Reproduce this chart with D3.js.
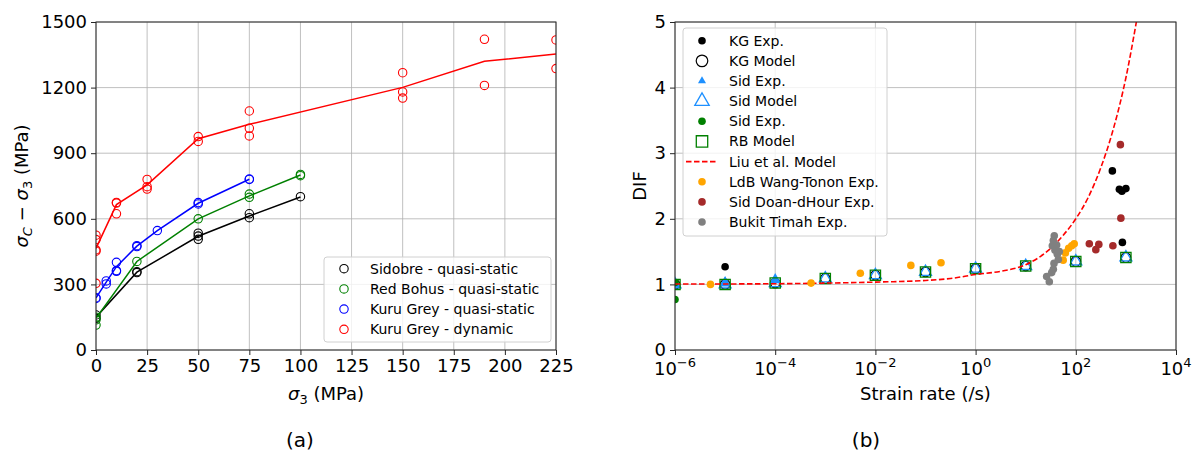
<!DOCTYPE html>
<html><head><meta charset="utf-8">
<script src="https://cdn.jsdelivr.net/npm/d3@7/dist/d3.min.js"></script>
<style>body{margin:0;background:#fff;} text{font-family:"DejaVu Sans",sans-serif;fill:#000;}</style>
</head><body><svg id="c" width="1199" height="452" xmlns="http://www.w3.org/2000/svg"></svg>
<script>
// ---------- data: panel (a) ----------
const sidobrePts = [[0,160],[0,145],[20,358],[20,354],[50,534],[50,521],[50,506],[75,623],[75,605],[100,701]];
const sidobreLine = [[0,150],[20,356],[50,520],[75,613],[100,700]];
const redBohusPts = [[0,114],[0,138],[0,150],[20,405],[50,600],[75,713],[75,698],[100,803],[100,797]];
const redBohusLine = [[0,145],[20,405],[50,600],[75,705],[100,800]];
const kuruQsPts = [[0,239],[0,236],[5,316],[5,302],[10,401],[10,360],[10,363],[20,477],[20,473],[30,546],[50,674],[50,668],[75,782],[75,780]];
const kuruQsLine = [[0,238],[5,310],[10,381],[20,475],[30,546],[50,671],[75,781]];
const kuruDynPts = [[0,525],[0,505],[0,458],[0,452],[0,305],[10,675],[10,672],[10,623],[25,780],[25,747],[25,736],[50,976],[50,954],[75,1093],[75,1014],[75,979],[150,1268],[150,1180],[150,1152],[190,1421],[190,1210],[225,1418],[225,1287]];
const kuruDynLine = [[0,465],[10,665],[25,755],[50,966],[75,1032],[150,1201],[190,1320],[225,1354]];
const legendA = ["Sidobre - quasi-static","Red Bohus - quasi-static","Kuru Grey - quasi-static","Kuru Grey - dynamic"];
const xTicksA = [0,25,50,75,100,125,150,175,200,225];
const yTicksA = [0,300,600,900,1200,1500];

// ---------- data: panel (b) ----------
const modelRates = [1e-6,1e-5,1e-4,1e-3,1e-2,1e-1,1,10,100,1000];
const kgModel = [1.0,1.0,1.02,1.09,1.14,1.19,1.24,1.28,1.35,1.41];
const sidModel = [1.0,1.0,1.02,1.09,1.14,1.19,1.24,1.28,1.35,1.41];
const rbModel = [1.0,1.0,1.02,1.09,1.14,1.19,1.24,1.28,1.35,1.41];
const kgExp = [[1e-5,1.27],[537,2.73],[741,2.45],[832,2.42],[1000,2.46],[851,1.64]];
const sidExpTri = [[1e-6,1.0],[1e-5,1.02],[1e-4,1.07]];
const sidExpGreen = [[1e-6,1.03],[1e-6,0.77]];
const liuModel = [[1e-6,1.005],[1e-4,1.01],[1e-3,1.02],[1e-2,1.035],[0.1,1.06],[0.316,1.09],[1,1.15],[3.16,1.2],[10,1.3],[31.6,1.55],[56.2,1.75],[100,2.0],[178,2.33],[316,2.78],[562,3.37],[1000,4.15],[1660,5.05]];
const ldbExp = [[5.1e-6,1.0],[5.2e-4,1.02],[5.0e-3,1.17],[0.051,1.29],[0.204,1.33],[56,1.37],[62,1.48],[72,1.55],[83,1.59],[93,1.62]];
const doanExp = [[186,1.62],[251,1.53],[288,1.61],[550,1.59],[776,3.13],[794,2.01]];
const bukitExp = [[37.2,1.74],[35.6,1.67],[34.0,1.59],[38.5,1.52],[42.8,1.46],[44.8,1.38],[36.7,1.32],[35.6,1.23],[33.0,1.18],[26.2,1.12],[29.6,1.04],[41.5,1.60],[46.9,1.50]];
const legendB = ["KG Exp.","KG Model","Sid Exp.","Sid Model","Sid Exp.","RB Model","Liu et al. Model","LdB Wang-Tonon Exp.","Sid Doan-dHour Exp.","Bukit Timah Exp."];
const xTickExpB = [-6,-4,-2,0,2,4];
const yTicksB = [0,1,2,3,4,5];

const svg = d3.select("#c");
const GRID = "#b0b0b0", SPINE = "#262626";

// ================= Panel (a) =================
const A = {l:96, r:556, t:22, b:350};
const xA = d3.scaleLinear().domain([0,225]).range([A.l,A.r]);
const yA = d3.scaleLinear().domain([0,1500]).range([A.b,A.t]);
const gA = svg.append("g");
gA.append("clipPath").attr("id","clipA").append("rect").attr("x",A.l).attr("y",A.t).attr("width",A.r-A.l).attr("height",A.b-A.t);
gA.selectAll(".gx").data(xTicksA).join("line").attr("x1",d=>xA(d)).attr("x2",d=>xA(d)).attr("y1",A.t).attr("y2",A.b).attr("stroke",GRID).attr("stroke-width",0.8);
gA.selectAll(".gy").data(yTicksA).join("line").attr("y1",d=>yA(d)).attr("y2",d=>yA(d)).attr("x1",A.l).attr("x2",A.r).attr("stroke",GRID).attr("stroke-width",0.8);
const seriesA = [
  {pts:sidobrePts,line:sidobreLine,c:"#000000"},
  {pts:redBohusPts,line:redBohusLine,c:"#008000"},
  {pts:kuruQsPts,line:kuruQsLine,c:"#0000ff"},
  {pts:kuruDynPts,line:kuruDynLine,c:"#ff0000"}];
const plotA = gA.append("g").attr("clip-path","url(#clipA)");
const lineA = d3.line().x(d=>xA(d[0])).y(d=>yA(d[1]));
seriesA.forEach(s=>{
  plotA.append("g").selectAll("circle").data(s.pts).join("circle").attr("cx",d=>xA(d[0])).attr("cy",d=>yA(d[1])).attr("r",4.2).attr("fill","none").attr("stroke",s.c).attr("stroke-width",1.1);
  plotA.append("path").attr("d",lineA(s.line)).attr("fill","none").attr("stroke",s.c).attr("stroke-width",1.5);
});
const axA = gA.append("g").attr("transform",`translate(0,${A.b})`).call(d3.axisBottom(xA).tickValues(xTicksA).tickSize(5).tickPadding(4).tickFormat(d3.format("d")));
const ayA = gA.append("g").attr("transform",`translate(${A.l},0)`).call(d3.axisLeft(yA).tickValues(yTicksA).tickSize(5).tickPadding(4).tickFormat(d3.format("d")));
[axA,ayA].forEach(a=>{a.select(".domain").remove();a.selectAll("text").attr("font-size",18).attr("font-family","DejaVu Sans");a.selectAll("line").attr("stroke",SPINE);});
gA.append("rect").attr("x",A.l).attr("y",A.t).attr("width",A.r-A.l).attr("height",A.b-A.t).attr("fill","none").attr("stroke",SPINE).attr("stroke-width",1);
const xla = gA.append("text").attr("x",(A.l+A.r)/2).attr("y",400).attr("text-anchor","middle").attr("font-size",18);
xla.append("tspan").attr("font-style","italic").text("σ");
xla.append("tspan").attr("font-size",13).attr("dy",4).text("3");
xla.append("tspan").attr("dy",-4).text(" (MPa)");
const yla = gA.append("text").attr("transform",`translate(28,${(A.t+A.b)/2}) rotate(-90)`).attr("text-anchor","middle").attr("font-size",18);
yla.append("tspan").attr("font-style","italic").text("σ");
yla.append("tspan").attr("font-size",13).attr("font-style","italic").attr("dy",4).text("C");
yla.append("tspan").attr("dy",-4).text(" − ");
yla.append("tspan").attr("font-style","italic").text("σ");
yla.append("tspan").attr("font-size",13).attr("dy",4).text("3");
yla.append("tspan").attr("dy",-4).text(" (MPa)");
svg.append("text").attr("x",300).attr("y",447).attr("text-anchor","middle").attr("font-size",20).text("(a)");
const LA = gA.append("g");
LA.append("rect").attr("x",324).attr("y",257).attr("width",227).attr("height",85).attr("rx",3).attr("fill","#fff").attr("fill-opacity",0.8).attr("stroke","#d0d0d0");
legendA.forEach((t,i)=>{
  const y = 268.7 + i*20.2;
  LA.append("circle").attr("cx",344).attr("cy",y).attr("r",4.2).attr("fill","none").attr("stroke",seriesA[i].c).attr("stroke-width",1.1);
  LA.append("text").attr("x",370).attr("y",y+5).attr("font-size",14).text(t);
});

// ================= Panel (b) =================
const B = {l:675, r:1176, t:22, b:350};
const xB = d3.scaleLog().domain([1e-6,1e4]).range([B.l,B.r]);
const yB = d3.scaleLinear().domain([0,5]).range([B.b,B.t]);
const gB = svg.append("g");
gB.append("clipPath").attr("id","clipB").append("rect").attr("x",B.l).attr("y",B.t).attr("width",B.r-B.l).attr("height",B.b-B.t);
gB.selectAll(".gx").data(xTickExpB).join("line").attr("x1",d=>xB(Math.pow(10,d))).attr("x2",d=>xB(Math.pow(10,d))).attr("y1",B.t).attr("y2",B.b).attr("stroke",GRID).attr("stroke-width",0.8);
gB.selectAll(".gy").data(yTicksB).join("line").attr("y1",d=>yB(d)).attr("y2",d=>yB(d)).attr("x1",B.l).attr("x2",B.r).attr("stroke",GRID).attr("stroke-width",0.8);
const plotB = gB.append("g").attr("clip-path","url(#clipB)");
const sym = (type,size)=>d3.symbol().type(type).size(size)();
function dots(data,r,fill){
  plotB.append("g").selectAll("circle").data(data).join("circle").attr("cx",d=>xB(d[0])).attr("cy",d=>yB(d[1])).attr("r",r).attr("fill",fill);
}
function marks(xs,ys,type,size,fill,stroke,sw){
  plotB.append("g").selectAll("path").data(xs.map((x,i)=>[x,ys[i]])).join("path")
    .attr("transform",d=>`translate(${xB(d[0])},${yB(d[1])})`).attr("d",sym(type,size))
    .attr("fill",fill).attr("stroke",stroke).attr("stroke-width",sw);
}
const BLUE="#1e90ff", GREEN="#008000", ORANGE="#ffa500", BROWN="#a52a2a", GREY="#808080";
dots(kgExp,3.8,"#000");
marks(modelRates,kgModel,d3.symbolCircle,Math.PI*4.8*4.8,"none","#000",1.2);
marks(sidExpTri.map(d=>d[0]),sidExpTri.map(d=>d[1]),d3.symbolTriangle,60,BLUE,"none",0);
marks(modelRates,sidModel,d3.symbolTriangle,62,"none",BLUE,1.3);
dots(sidExpGreen,3.8,GREEN);
marks(modelRates,rbModel,d3.symbolSquare,105,"none",GREEN,1.3);
plotB.append("path").attr("d",d3.line().x(d=>xB(d[0])).y(d=>yB(d[1])).curve(d3.curveMonotoneX)(liuModel))
  .attr("fill","none").attr("stroke","#ff0000").attr("stroke-width",1.6).attr("stroke-dasharray","5.5,2.5");
dots(ldbExp,3.8,ORANGE);
dots(doanExp,3.8,BROWN);
dots(bukitExp,3.8,GREY);
const axB = gB.append("g").attr("transform",`translate(0,${B.b})`).call(d3.axisBottom(xB).tickValues(xTickExpB.map(e=>Math.pow(10,e))).tickSize(5).tickFormat(""));
const ayB = gB.append("g").attr("transform",`translate(${B.l},0)`).call(d3.axisLeft(yB).tickValues(yTicksB).tickSize(5).tickPadding(4).tickFormat(d3.format("d")));
[axB,ayB].forEach(a=>{a.select(".domain").remove();a.selectAll("text").attr("font-size",18).attr("font-family","DejaVu Sans");a.selectAll("line").attr("stroke",SPINE);});
xTickExpB.forEach(e=>{
  const t = gB.append("text").attr("x",xB(Math.pow(10,e))).attr("y",375).attr("text-anchor","middle").attr("font-size",18);
  t.append("tspan").text("10");
  t.append("tspan").attr("font-size",13).attr("dy",-8).text(e<0?"−"+(-e):String(e));
});
gB.append("rect").attr("x",B.l).attr("y",B.t).attr("width",B.r-B.l).attr("height",B.b-B.t).attr("fill","none").attr("stroke",SPINE).attr("stroke-width",1);
gB.append("text").attr("x",(B.l+B.r)/2).attr("y",400).attr("text-anchor","middle").attr("font-size",18).text("Strain rate (/s)");
gB.append("text").attr("transform",`translate(646,${(B.t+B.b)/2}) rotate(-90)`).attr("text-anchor","middle").attr("font-size",18).text("DIF");
svg.append("text").attr("x",866).attr("y",447).attr("text-anchor","middle").attr("font-size",20).text("(b)");
const LB = gB.append("g");
LB.append("rect").attr("x",683).attr("y",28).attr("width",204).attr("height",208).attr("rx",3).attr("fill","#fff").attr("fill-opacity",0.8).attr("stroke","#d0d0d0");
const lgMarks = [
  g=>g.append("circle").attr("r",3.8).attr("fill","#000"),
  g=>g.append("circle").attr("r",5.8).attr("fill","none").attr("stroke","#000").attr("stroke-width",1.2),
  g=>g.append("path").attr("d",sym(d3.symbolTriangle,28)).attr("fill",BLUE),
  g=>g.append("path").attr("d",sym(d3.symbolTriangle,90)).attr("fill","none").attr("stroke",BLUE).attr("stroke-width",1.3),
  g=>g.append("circle").attr("r",3.8).attr("fill",GREEN),
  g=>g.append("path").attr("d",sym(d3.symbolSquare,130)).attr("fill","none").attr("stroke",GREEN).attr("stroke-width",1.3),
  g=>g.append("line").attr("x1",-16).attr("x2",16).attr("stroke","#ff0000").attr("stroke-width",1.6).attr("stroke-dasharray","5.5,2.5"),
  g=>g.append("circle").attr("r",3.8).attr("fill",ORANGE),
  g=>g.append("circle").attr("r",3.8).attr("fill",BROWN),
  g=>g.append("circle").attr("r",3.8).attr("fill",GREY)];
legendB.forEach((t,i)=>{
  const y = 40.7 + i*20.15;
  lgMarks[i](LB.append("g").attr("transform",`translate(702,${y})`));
  LB.append("text").attr("x",729).attr("y",y+5).attr("font-size",14).text(t);
});
</script></body></html>
